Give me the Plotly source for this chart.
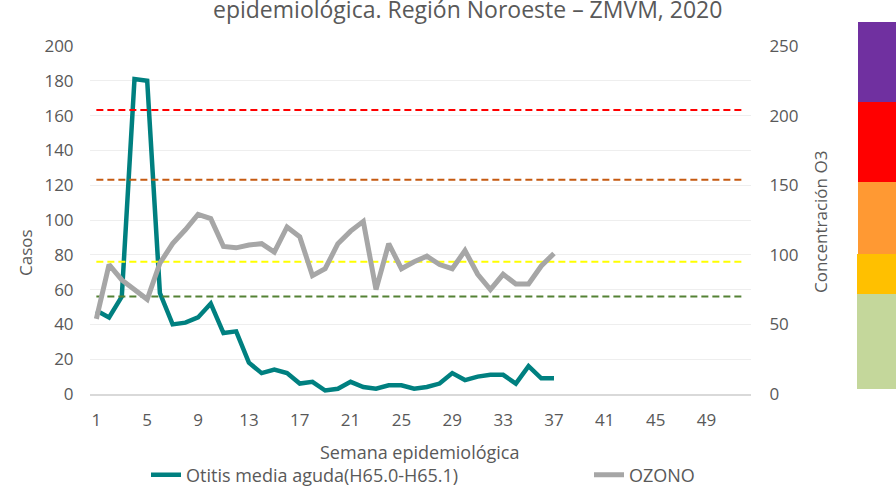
import plotly.graph_objects as go

# Weekly data, epidemiological weeks 1-52 (2020)
weeks = list(range(1, 53))
otitis_weeks = list(range(1, 38))
otitis_cases = [48, 44, 56, 181, 180, 58, 40, 41, 44, 52,
                35, 36, 18, 12, 14, 12, 6, 7, 2, 3,
                7, 4, 3, 5, 5, 3, 4, 6, 12, 8,
                10, 11, 11, 6, 16, 9, 9]
ozone_weeks = list(range(1, 38))
ozone_conc = [54, 93, 82, 75, 68, 94, 108, 118, 129, 126,
              106, 105, 107, 108, 102, 120, 113, 85, 90, 108,
              117, 124, 75, 108, 90, 95, 99, 93, 90, 103,
              86, 75, 86, 79, 79, 92, 101]

# Ozone air-quality thresholds (right axis)
threshold_values = [70, 95, 154, 204]
threshold_colors = ["#548235", "#FFFF00", "#C55A11", "#FF0000"]

x_ticks = list(range(1, 52, 4))
left_ticks = list(range(0, 201, 20))
right_ticks = list(range(0, 251, 50))

FONT = "Open Sans"
GREY_TXT = "#595959"

fig = go.Figure()

for val, col in zip(threshold_values, threshold_colors):
    fig.add_trace(go.Scatter(
        x=[weeks[0], weeks[-1]], y=[val, val], yaxis="y2", mode="lines",
        line=dict(color=col, width=2, dash="7px,4px"),
        showlegend=False, hoverinfo="skip"))

fig.add_trace(go.Scatter(
    x=otitis_weeks, y=otitis_cases, mode="lines",
    name="Otitis media aguda(H65.0-H65.1)", legend="legend",
    line=dict(color="#008080", width=4.5)))

fig.add_trace(go.Scatter(
    x=ozone_weeks, y=ozone_conc, yaxis="y2", mode="lines",
    name="OZONO", legend="legend2",
    line=dict(color="#A6A6A6", width=5)))

# Air-quality colour key at the right edge
H = 348.0
def py(pix):
    return (394.0 - pix) / H

def px(pix):
    return (pix - 90.0) / 661.0

bands = [
    (22, 102, "#7030A0", 858),
    (102, 182, "#FF0000", 858),
    (182, 254, "#FF9933", 858),
    (254, 294, "#FFC000", 857),
    (294, 389, "#C4D79B", 857),
]
for top, bot, col, left in bands:
    fig.add_shape(type="rect", xref="paper", yref="paper",
                  x0=px(left), x1=px(900),
                  y0=py(bot), y1=py(top),
                  fillcolor=col, line=dict(width=0), layer="above")

fig.add_annotation(text="epidemiológica. Región Noroeste – ZMVM, 2020",
                   xref="paper", yref="paper",
                   x=px(467), y=py(9),
                   xanchor="center", yanchor="middle", showarrow=False,
                   font=dict(family=FONT, size=23, color=GREY_TXT))

fig.add_annotation(text="Casos", xref="paper", yref="paper",
                   x=px(25), y=py(253), textangle=-90,
                   xanchor="center", yanchor="middle", showarrow=False,
                   font=dict(family=FONT, size=17, color=GREY_TXT))
fig.add_annotation(text="Concentración O3", xref="paper", yref="paper",
                   x=px(820), y=py(222), textangle=-90,
                   xanchor="center", yanchor="middle", showarrow=False,
                   font=dict(family=FONT, size=17, color=GREY_TXT))
fig.add_annotation(text="Semana epidemiológica", xref="paper", yref="paper",
                   x=px(420), y=py(452),
                   xanchor="center", yanchor="middle", showarrow=False,
                   font=dict(family=FONT, size=18, color=GREY_TXT))

legend_style = dict(orientation="h", xanchor="left", yanchor="middle",
                    itemwidth=30, y=py(475),
                    font=dict(family=FONT, size=18, color=GREY_TXT),
                    bgcolor="rgba(0,0,0,0)")

fig.update_layout(
    width=896, height=486,
    margin=dict(l=90, r=145, t=46, b=92, autoexpand=False),
    paper_bgcolor="white", plot_bgcolor="white",
    font=dict(family=FONT, size=16, color=GREY_TXT),
    xaxis=dict(range=[0.5, 52.5], tickmode="array", tickvals=x_ticks,
               showgrid=False, zeroline=False,
               showline=True, linecolor="#D9D9D9", linewidth=1.5,
               ticks="outside", ticklen=10, tickcolor="rgba(0,0,0,0)",
               tickfont=dict(size=17, color=GREY_TXT)),
    yaxis=dict(range=[0, 200], tickmode="array", tickvals=left_ticks,
               showgrid=True, gridcolor="#EEEEEE", gridwidth=1,
               zeroline=False, showline=False,
               ticks="outside", ticklen=12, tickcolor="rgba(0,0,0,0)",
               tickfont=dict(size=17, color=GREY_TXT)),
    yaxis2=dict(range=[0, 250], tickmode="array", tickvals=right_ticks,
                overlaying="y", side="right", showgrid=False,
                zeroline=False, showline=False,
                ticks="outside", ticklen=14, tickcolor="rgba(0,0,0,0)",
                tickfont=dict(size=17, color=GREY_TXT)),
    legend=dict(legend_style, x=px(146)),
    legend2=dict(legend_style, x=px(589)),
)

fig.write_html("out.html")
